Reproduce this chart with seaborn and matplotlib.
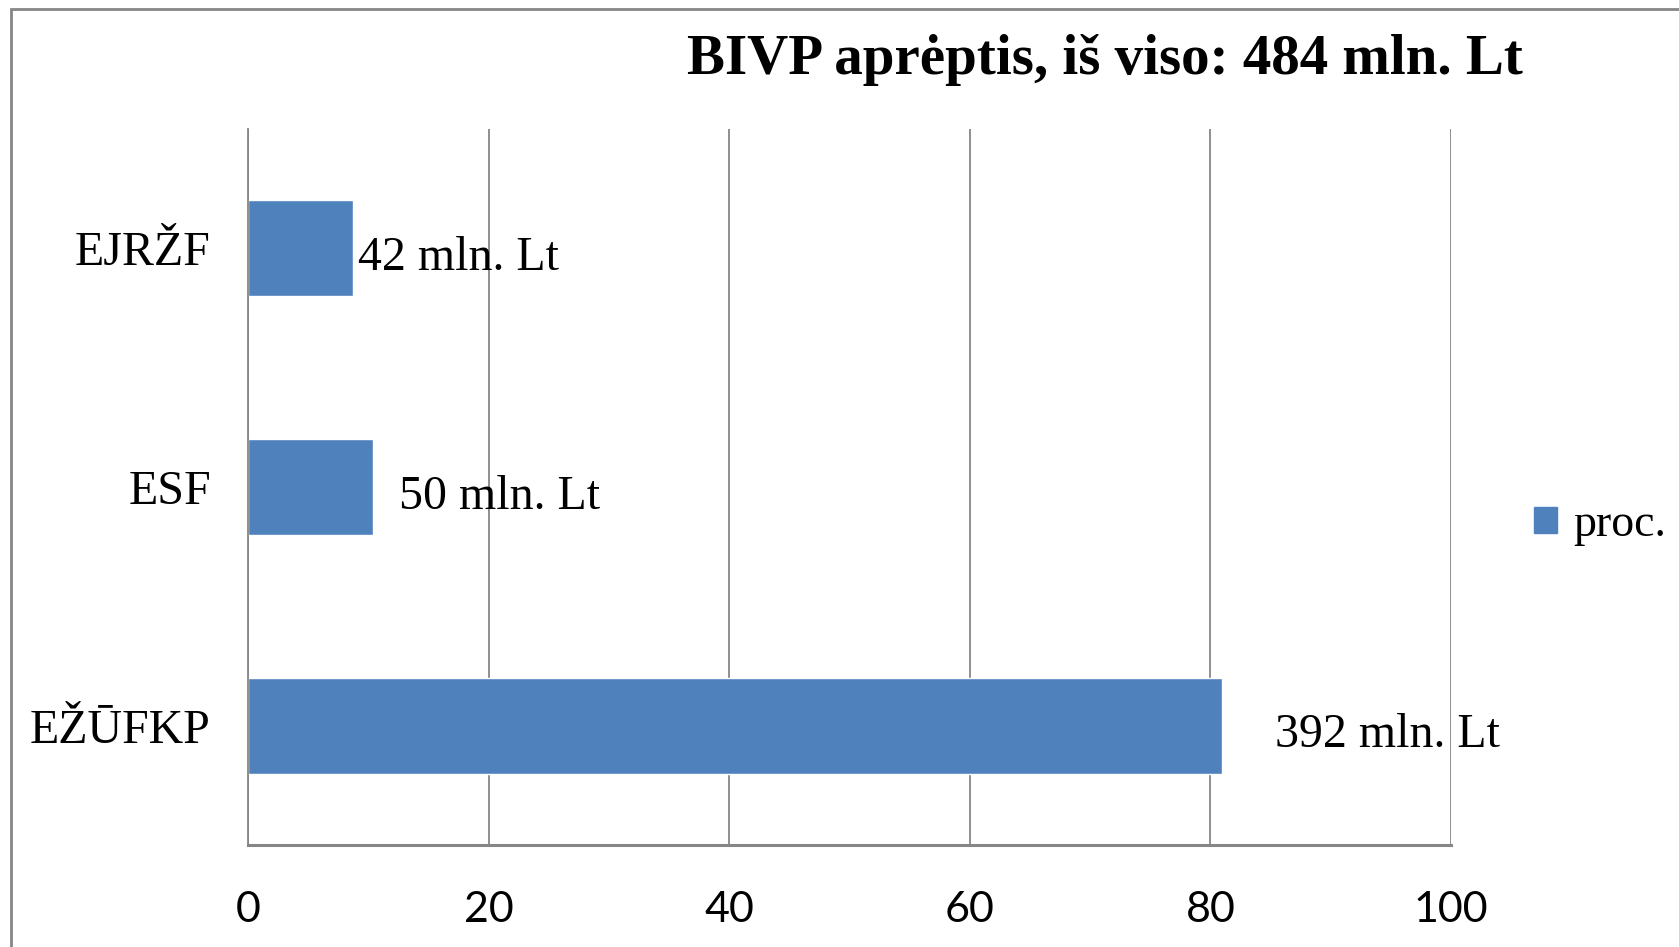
import numpy as np
import pandas as pd
import seaborn as sns
import matplotlib.pyplot as plt
from matplotlib.patches import Patch, Rectangle

# data (share of total, %)
categories = ['EJRŽF', 'ESF', 'EŽŪFKP']
shares = [8.68, 10.33, 80.99]
labels = ['42 mln. Lt', '50 mln. Lt', '392 mln. Lt']
xticks = [0, 20, 40, 60, 80, 100]
title = 'BIVP aprėptis, iš viso: 484 mln. Lt'
legend_label = 'proc.'

df = pd.DataFrame({'cat': categories, 'share': shares})

sns.set_style('white')
plt.rcParams['font.family'] = ['Liberation Serif', 'DejaVu Serif']
plt.rcParams['text.color'] = 'black'
plt.rcParams['xtick.labelcolor'] = 'black'
plt.rcParams['ytick.labelcolor'] = 'black'

blue = '#4F81BD'
grey = '#868686'

fig = plt.figure(figsize=(16.79, 9.47), dpi=100)
ax = fig.add_axes([0.1479, 0.1075, 0.7163, 0.7568])

sns.barplot(data=df, y='cat', x='share', orient='h', color=blue,
            width=0.40, saturation=1, ax=ax)

ax.set_xlim(0, 100)
ax.set_ylim(2.5, -0.5)
ax.set_xticks(xticks)
ax.set_xticklabels([str(t) for t in xticks], family='Lato', fontsize=31)
ax.set_xlabel('')
ax.set_ylabel('')
ax.tick_params(axis='x', length=9, width=1.2, color=grey, pad=24, direction='out',
               labelcolor='black')
ax.tick_params(axis='y', which='major', length=0, pad=27, labelsize=34.5,
               labelcolor='black')
ax.set_yticks([-0.5, 0.5, 1.5, 2.5], minor=True)
ax.tick_params(axis='y', which='minor', length=9, width=1.2, color=grey, direction='out')
ax.xaxis.grid(True, color=grey, linewidth=1.3)
ax.set_axisbelow(True)
for s in ['top', 'right']:
    ax.spines[s].set_visible(False)
ax.spines['left'].set_color(grey)
ax.spines['left'].set_linewidth(1.3)
ax.spines['bottom'].set_color(grey)
ax.spines['bottom'].set_linewidth(2.2)

# value labels, placed by hand as in the original
offsets = [4, 19, 38]
for i, (v, lab) in enumerate(zip(shares, labels)):
    ax.annotate(lab, xy=(v, i), xytext=(offsets[i], -7), textcoords='offset points',
                ha='left', va='center', fontsize=34.5, color='black')

fig.text(0.658, 0.937, title, ha='center', va='center', fontsize=41,
         fontweight='bold', color='black')

fig.legend(handles=[Patch(color=blue, label=legend_label)], loc='center left',
           bbox_to_anchor=(0.9136, 0.4456), frameon=False, fontsize=33,
           handlelength=0.5, handleheight=0.5, handletextpad=0.35,
           borderpad=0, borderaxespad=0, labelcolor='black')

# outer chart frame
fig.patches.append(Rectangle((11 / 1679, -0.1), 1.2, 0.1 + 1 - 9 / 947,
                             transform=fig.transFigure, fill=False,
                             edgecolor=grey, linewidth=2))

fig.savefig('out.png', dpi=100)
